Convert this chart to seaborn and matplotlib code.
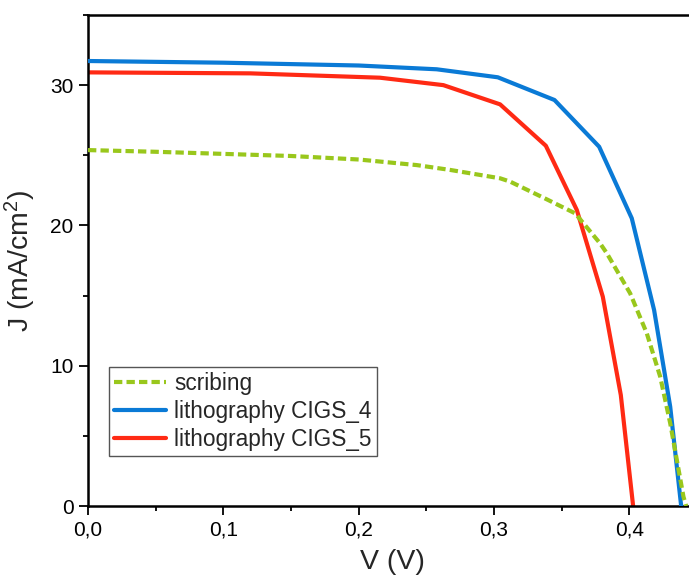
import matplotlib
matplotlib.use("Agg")
import matplotlib.pyplot as plt
from matplotlib.ticker import FuncFormatter, MultipleLocator
import seaborn as sns

# J-V curves (voltage in V, current density in mA/cm^2)
scribing_v = [0.0, 0.05, 0.10, 0.15, 0.20, 0.243, 0.268, 0.3045, 0.312, 0.339, 0.360,
              0.3784, 0.3834, 0.4006, 0.4129, 0.4228, 0.4302, 0.440, 0.442]
scribing_j = [25.37, 25.25, 25.10, 24.95, 24.70, 24.30, 23.95, 23.36, 23.12, 21.86, 20.86,
              18.72, 18.01, 15.16, 12.31, 9.22, 5.90, 0.66, 0.0]

cigs4_v = [0.0, 0.10, 0.20, 0.2577, 0.3028, 0.3447, 0.3777, 0.4018, 0.4183, 0.4302, 0.4383]
cigs4_j = [31.72, 31.60, 31.40, 31.13, 30.56, 28.94, 25.61, 20.51, 13.97, 7.08, 0.0]

cigs5_v = [0.0, 0.12, 0.2158, 0.2626, 0.3045, 0.3383, 0.3612, 0.3804, 0.3937, 0.4028]
cigs5_j = [30.91, 30.84, 30.53, 30.00, 28.63, 25.68, 21.10, 14.92, 7.91, 0.0]

labels = ["scribing", "lithography CIGS_4", "lithography CIGS_5"]
colors = ["#99c71c", "#0a7ad6", "#ff2a14"]

sns.set_style("ticks")
plt.rcParams["font.family"] = ["Liberation Sans", "DejaVu Sans"]
plt.rcParams["mathtext.fontset"] = "custom"
plt.rcParams["mathtext.rm"] = "Liberation Sans"
plt.rcParams["mathtext.it"] = "Liberation Sans:italic"

fig = plt.figure(figsize=(6.89, 5.85), dpi=100)
# the axes run slightly past the right edge of the canvas
ax = fig.add_axes([88 / 689, 79 / 585, 609 / 689, 491 / 585])

sns.lineplot(x=scribing_v, y=scribing_j, ax=ax, color=colors[0], lw=3.0,
             linestyle=(0, (2, 1)), label=labels[0], sort=False, estimator=None, zorder=4)
sns.lineplot(x=cigs4_v, y=cigs4_j, ax=ax, color=colors[1], lw=3.0,
             label=labels[1], sort=False, estimator=None, zorder=3)
sns.lineplot(x=cigs5_v, y=cigs5_j, ax=ax, color=colors[2], lw=3.0,
             label=labels[2], sort=False, estimator=None, zorder=2)

ax.set_xlim(0, 0.45)
ax.set_ylim(0, 35)
ax.xaxis.set_major_locator(MultipleLocator(0.1))
ax.xaxis.set_minor_locator(MultipleLocator(0.05))
ax.yaxis.set_major_locator(MultipleLocator(10))
ax.yaxis.set_minor_locator(MultipleLocator(5))
ax.xaxis.set_major_formatter(FuncFormatter(lambda v, p: f"{v:.1f}".replace(".", ",")))
ax.yaxis.set_major_formatter(FuncFormatter(lambda v, p: f"{v:.0f}"))

for s in ax.spines.values():
    s.set_linewidth(1.8)
    s.set_color("black")
ax.tick_params(which="major", direction="out", length=6.5, width=1.3,
               labelsize=15, colors="black", pad=4)
ax.tick_params(which="minor", direction="out", length=3.8, width=1.3, colors="black")

ax.set_xlabel("V (V)", fontsize=20.5, labelpad=7)
ax.set_ylabel("J (mA/cm$^2$)", fontsize=20.5, labelpad=9)

leg = ax.legend(loc="upper left", bbox_to_anchor=(109 / 689, 1 - 367 / 585),
                bbox_transform=fig.transFigure, borderaxespad=0, fontsize=16.3,
                frameon=True, fancybox=False, framealpha=1, edgecolor="#555555",
                handlelength=2.3, handletextpad=0.37, borderpad=0.22, labelspacing=0.22)
leg.get_frame().set_linewidth(1.0)

fig.savefig("out.png", dpi=100)
